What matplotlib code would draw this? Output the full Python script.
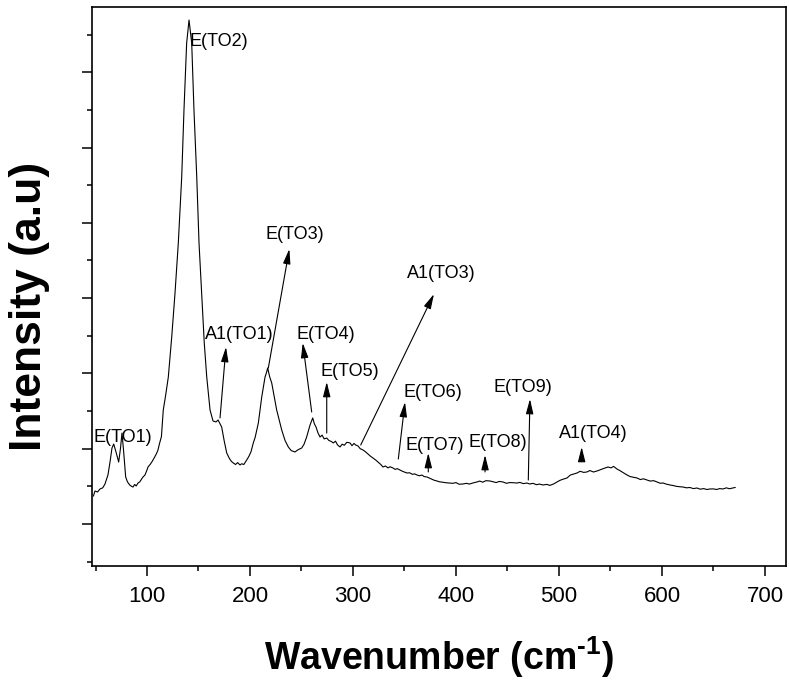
import matplotlib
matplotlib.use('Agg')
import matplotlib.pyplot as plt

plt.rcParams['font.family'] = ['Liberation Sans', 'DejaVu Sans']
plt.rcParams['mathtext.fontset'] = 'custom'
plt.rcParams['mathtext.rm'] = 'Liberation Sans'
plt.rcParams['mathtext.bf'] = 'Liberation Sans:bold'

# Raman spectrum: (wavenumber cm-1, intensity a.u.)
spectrum = [
    (48, 1372), (49.5, 1438), (52, 1425), (54.4, 1465), (57, 1480),
    (59.2, 1531), (62.1, 1651), (64.1, 1823), (66.0, 2009), (67.7, 2062),
    (69.9, 1956), (72.5, 1823), (74.3, 2009), (75.7, 2208), (77.2, 1983),
    (79.3, 1624), (81, 1560), (83.2, 1518), (85, 1500), (86.4, 1491),
    (88, 1525), (89.5, 1505), (91.3, 1544), (93, 1560), (94.5, 1590),
    (96.1, 1624), (98, 1650), (99.5, 1700), (101.0, 1757), (103, 1790),
    (105, 1830), (107.5, 1890), (109, 1930), (110.5, 1975), (112.3, 2076),
    (114, 2160), (115.8, 2514), (118, 2700), (120.7, 2952), (124.0, 3483),
    (127.2, 4068), (130.4, 4732), (133.7, 5608), (135.9, 6498), (138.5, 7388),
    (140.8, 7693), (143.4, 7388), (145.6, 6498), (148.3, 5608), (150.5, 4732),
    (153.1, 4068), (155.6, 3404), (158.0, 2952), (161.2, 2514), (164.1, 2368),
    (167.0, 2355), (169.0, 2381), (170.5, 2340), (172.5, 2288), (175, 2100),
    (177.4, 1943), (180, 1870), (182, 1830), (183.8, 1810), (186, 1790),
    (188, 1815), (190.3, 1784), (192, 1800), (194, 1790), (196.8, 1850),
    (199, 1900), (201, 1960), (203.2, 2076), (205, 2150), (208.1, 2341),
    (211.4, 2687), (214.6, 2952), (216, 3010), (217.2, 3072), (219, 2960),
    (221.1, 2872), (225.9, 2514), (230.8, 2248), (234, 2110), (237.2, 2023),
    (240, 1975), (243.7, 1956), (246, 1980), (248, 1995), (250.2, 2009),
    (252.5, 2060), (255.0, 2155), (258.3, 2315), (260.9, 2408), (262.5, 2330),
    (264.1, 2288), (266, 2210), (268.0, 2155), (270, 2180), (272, 2130),
    (274.5, 2142), (276.5, 2110), (279, 2095), (280.9, 2076), (283, 2100),
    (285, 2050), (287.4, 2023), (289.5, 2060), (291.5, 2045), (294, 2085),
    (297.1, 2076), (299, 2040), (301, 2070), (302.5, 2050), (304.9, 2036),
    (307, 2000), (309.7, 1983), (312, 1960), (314.5, 1930), (317, 1900),
    (319.4, 1876), (322, 1850), (324.5, 1820), (327, 1790), (329.1, 1757),
    (331.5, 1770), (334, 1745), (336, 1760), (338.8, 1744), (341, 1725),
    (343, 1735), (345.6, 1717), (348, 1700), (350, 1690), (352.4, 1677),
    (355, 1680), (357.5, 1660), (360, 1665), (362.1, 1651), (364.5, 1640),
    (367, 1650), (369, 1630), (371.8, 1624), (374, 1610), (376.5, 1595),
    (379, 1580), (381.6, 1571), (384, 1560), (387, 1555), (390, 1548),
    (394.2, 1544), (397, 1540), (400, 1550), (403, 1528), (406.8, 1531),
    (410, 1540), (413, 1530), (416.5, 1545), (420.4, 1558), (423, 1570),
    (426, 1555), (429, 1575), (433.0, 1571), (436, 1560), (439, 1550),
    (442, 1565), (445.6, 1558), (449, 1540), (452, 1550), (455.5, 1548),
    (459.2, 1544), (462, 1552), (465.5, 1536), (468.9, 1544), (471.5, 1531),
    (474.8, 1540), (478, 1522), (481, 1530), (484.5, 1518), (488.3, 1526),
    (491, 1512), (494.5, 1530), (498.1, 1558), (501, 1580), (504, 1595),
    (507.8, 1611), (511, 1650), (514.5, 1665), (517.5, 1677), (520.5, 1700),
    (524, 1685), (527.2, 1691), (530, 1710), (533.5, 1690), (536.9, 1704),
    (540, 1720), (544, 1740), (547.6, 1757), (550.5, 1745), (553, 1765),
    (556.3, 1730), (559, 1710), (562.5, 1680), (566.0, 1651), (569, 1630),
    (572.5, 1620), (575.7, 1611), (579, 1590), (582, 1600), (585.4, 1584),
    (588.5, 1570), (592, 1575), (595.1, 1558), (598.5, 1540), (601, 1545),
    (604, 1530), (607.8, 1518), (611, 1510), (614, 1500), (617, 1495),
    (620.4, 1491), (624, 1480), (627, 1485), (630.5, 1470), (634.0, 1478),
    (637, 1462), (640.5, 1470), (643.5, 1458), (646.6, 1465), (650, 1466),
    (653, 1458), (656, 1470), (659.2, 1465), (662.5, 1480), (665.5, 1468),
    (668.9, 1478), (671, 1485),
]
wavenumber = [p[0] for p in spectrum]
intensity = [p[1] for p in spectrum]

# mode labels, label anchor, arrow tail and arrow tip (data units)
mode_labels = ['E(TO1)', 'E(TO2)', 'A1(TO1)', 'E(TO3)', 'E(TO4)', 'E(TO5)',
               'A1(TO3)', 'E(TO6)', 'E(TO7)', 'E(TO8)', 'E(TO9)', 'A1(TO4)']
label_x = [76.7, 141.7, 189.3, 243.7, 273.8, 297.1, 385.4, 377.7, 379.6,
           440.8, 465.0, 533.0]
label_y = [2142, 7414, 3510, 4838, 3510, 3019, 4333, 2740, 2036, 2076, 2819,
           2208]
tail_xy = [None, None, (170.9, 2408), (217.8, 3072), (259.9, 2487),
           (274.5, 2208), (307.5, 2049), (344.0, 1863), (373.1, 1691),
           (428.2, 1691), (470.2, 1584), (522.0, 1850)]
tip_xy = [None, None, (176.7, 3351), (238.2, 4652), (251.2, 3404),
          (274.5, 2886), (378.6, 4054), (350.5, 2620), (373.1, 1943),
          (428.2, 1916), (471.8, 2660), (522.0, 2023)]

fig = plt.figure(figsize=(7.89, 6.86), dpi=100)
ax = fig.add_axes([92 / 789, 1 - 566 / 686, 694 / 789, 559 / 686])

ax.plot(wavenumber, intensity, color='black', lw=0.8)

for i, lab in enumerate(mode_labels):
    ha = 'left' if lab == 'E(TO2)' else 'center'
    ax.text(label_x[i], label_y[i], lab, fontsize=13, ha=ha, va='center')
    if tip_xy[i] is not None:
        ax.annotate('', xy=tip_xy[i], xytext=tail_xy[i],
                    arrowprops=dict(arrowstyle='-|>,head_length=0.6,head_width=0.15',
                                    mutation_scale=15, lw=0.8, color='black',
                                    shrinkA=0, shrinkB=0))

ax.set_xlim(46.6, 720.4)
ax.set_ylim(442, 7866)
ax.set_xticks([100, 200, 300, 400, 500, 600, 700])
ax.set_xticks(range(50, 701, 50), minor=True)
ax.set_yticks(range(1000, 7001, 1000))
ax.set_yticks(range(500, 7501, 1000), minor=True)
ax.set_yticklabels([])

ax.tick_params(which='both', direction='out', width=1.1, top=False, right=False)
ax.tick_params(which='major', length=7.5, labelsize=16, pad=7)
ax.tick_params(which='minor', length=3.8)
for s in ax.spines.values():
    s.set_linewidth(1.2)

ax.set_xlabel('Wavenumber (cm$^{\\mathbf{\u2010 1}}$)', fontsize=27,
              fontweight='bold')
ax.xaxis.set_label_coords(0.5, -0.122)
ax.set_ylabel('Intensity (a.u)', fontsize=32, fontweight='bold')
ax.yaxis.set_label_coords(-0.061, 0.465)

fig.savefig('out.png', dpi=100)
